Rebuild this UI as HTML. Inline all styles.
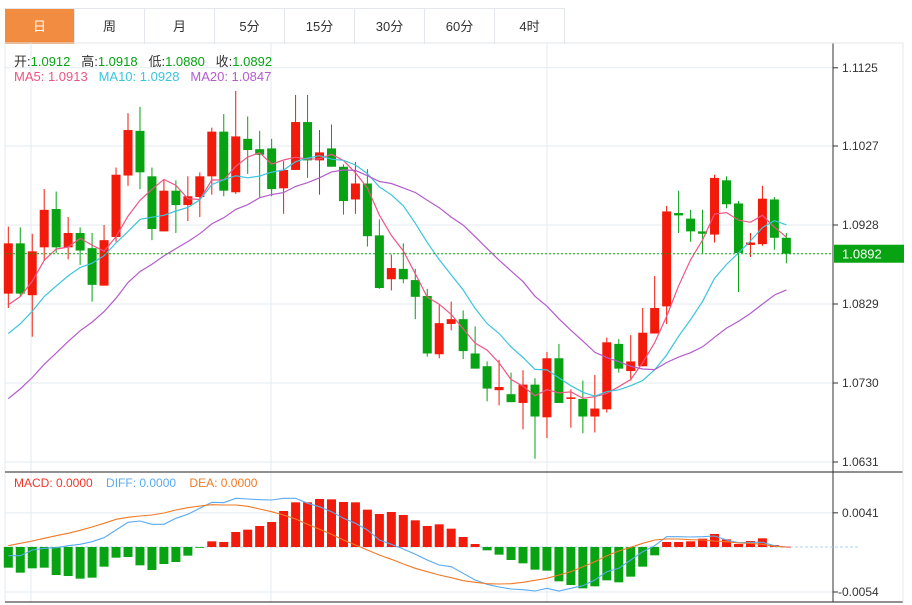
<!DOCTYPE html>
<html><head><meta charset="utf-8">
<style>
html,body{margin:0;padding:0;background:#fff;width:912px;height:605px;overflow:hidden;font-family:"Liberation Sans","Noto Sans CJK SC",sans-serif;}
#tabs{position:absolute;left:5px;top:8px;height:35px;display:flex;border-top:1px solid #e3e7eb;}
.tab{width:70px;height:35px;line-height:35px;text-align:center;font-size:13px;color:#333;border-right:1px solid #e3e7eb;box-sizing:border-box;}
.tab.on{background:#f28c40;color:#fff;}
.lg{position:absolute;left:14px;font-size:13px;white-space:nowrap;}
</style></head><body>
<div id="tabs">
<div class="tab on">日</div>
<div class="tab">周</div>
<div class="tab">月</div>
<div class="tab">5分</div>
<div class="tab">15分</div>
<div class="tab">30分</div>
<div class="tab">60分</div>
<div class="tab">4时</div>
</div>
<svg id="chart" width="912" height="605" style="position:absolute;left:0;top:0"></svg>
<div class="lg" style="top:51px;color:#333">开:<span style="color:#07a312">1.0912</span>&nbsp;&nbsp; 高:<span style="color:#07a312">1.0918</span>&nbsp;&nbsp; 低:<span style="color:#07a312">1.0880</span>&nbsp;&nbsp; 收:<span style="color:#07a312">1.0892</span></div>
<div class="lg" style="top:69px"><span style="color:#ee5584">MA5: 1.0913</span>&nbsp;&nbsp;&nbsp;<span style="color:#3cc4de">MA10: 1.0928</span>&nbsp;&nbsp;&nbsp;<span style="color:#b45ccc">MA20: 1.0847</span></div>
<div class="lg" style="top:476px;font-size:12px"><span style="color:#f2352a">MACD: 0.0000</span>&nbsp;&nbsp;&nbsp;&nbsp;<span style="color:#5aaaf0">DIFF: 0.0000</span>&nbsp;&nbsp;&nbsp;&nbsp;<span style="color:#f07a28">DEA: 0.0000</span></div>
<script>
const opens=[1.0842,1.0905,1.0840,1.0900,1.0948,1.0900,1.0918,1.0899,1.0852,1.0913,1.0990,1.1046,1.0989,1.0920,1.0971,1.0953,1.0963,1.0989,1.1045,1.0969,1.1036,1.1023,1.1024,1.0974,1.0997,1.1057,1.1009,1.1024,1.1001,1.0960,1.0980,1.0915,1.0860,1.0873,1.0859,1.0839,1.0766,1.0804,1.0810,1.0767,1.0751,1.0721,1.0716,1.0705,1.0728,1.0687,1.0761,1.0710,1.0710,1.0688,1.0697,1.0779,1.0745,1.0751,1.0792,1.0826,1.0943,1.0936,1.0920,1.0916,1.0984,1.0955,1.0903,1.0904,1.0960,1.0912];
const highs=[1.0926,1.0925,1.0917,1.0973,1.0970,1.0938,1.0925,1.0918,1.0928,1.1000,1.1068,1.1076,1.1000,1.0984,1.0984,1.0989,1.0994,1.1050,1.1067,1.1096,1.1064,1.1046,1.1036,1.1008,1.1091,1.1091,1.1047,1.1054,1.1004,1.1007,1.0998,1.0935,1.0891,1.0905,1.0873,1.0848,1.0828,1.0832,1.0821,1.0801,1.0757,1.0759,1.0743,1.0746,1.0736,1.0769,1.0779,1.0722,1.0733,1.0740,1.0787,1.0785,1.0790,1.0824,1.0864,1.0952,1.0971,1.0947,1.0947,1.0991,1.0989,1.0958,1.0918,1.0977,1.0963,1.0918];
const lows=[1.0824,1.0838,1.0788,1.0883,1.0893,1.0885,1.0878,1.0832,1.0852,1.0907,1.0977,1.0973,1.0909,1.0920,1.0918,1.0933,1.0938,1.0966,1.0964,1.0967,1.0992,1.0963,1.0964,1.0942,1.0997,1.0987,1.0966,1.1001,1.0941,1.0942,1.0901,1.0848,1.0846,1.0855,1.0810,1.0763,1.0761,1.0796,1.0760,1.0748,1.0707,1.0702,1.0706,1.0672,1.0635,1.0661,1.0705,1.0674,1.0667,1.0668,1.0693,1.0743,1.0733,1.0751,1.0792,1.0804,1.0918,1.0907,1.0893,1.0906,1.0949,1.0844,1.0888,1.0902,1.0897,1.0880];
const closes=[1.0905,1.0842,1.0895,1.0947,1.0900,1.0918,1.0896,1.0853,1.0909,1.0991,1.1047,1.0994,1.0923,1.0971,1.0953,1.0964,1.0989,1.1045,1.0971,1.1039,1.1022,1.1016,1.0973,1.0997,1.1057,1.1009,1.1019,1.1001,1.0958,1.0980,1.0914,1.0849,1.0874,1.0860,1.0838,1.0767,1.0805,1.0810,1.0770,1.0748,1.0723,1.0725,1.0706,1.0728,1.0688,1.0761,1.0705,1.0712,1.0688,1.0698,1.0781,1.0748,1.0757,1.0793,1.0824,1.0945,1.0940,1.0920,1.0917,1.0987,1.0954,1.0893,1.0906,1.0961,1.0912,1.0892];
const priorCloses=[1.0600,1.0610,1.0615,1.0620,1.0625,1.0630,1.0635,1.0645,1.0655,1.0655,1.0720,1.0740,1.0760,1.0770,1.0790,1.0790,1.0800,1.0815,1.0830];
const macdHist=[-24.8,-30.8,-25.6,-24.8,-33.6,-34.8,-38,-36.8,-23.6,-12.8,-12,-22,-27.6,-20.4,-18,-10.4,-0.8,6.8,6,18,20.8,25.2,30,43.2,53.6,53.6,57.6,57.2,54,53.6,44.8,39.6,42,38.4,32,25.2,27.2,22,12,3.6,-4,-9.2,-15.6,-19.6,-27.2,-28.4,-41.2,-45.6,-49.6,-47.2,-40,-42.4,-35.6,-23.6,-10,6,6,6.8,10,15.6,9.2,3.6,7.2,10.4,2.4,0.4];
const diffVals=[-10.4,-10.4,-3.6,-1.6,-0.8,1.6,3.2,6.4,11.2,20.4,29.6,31.2,27.2,27.2,34.4,39.2,46.4,53.6,53.2,58.4,57.6,56.8,56.4,58.4,58.4,52.4,48.4,42.4,34.4,28.4,20.4,8.4,3.2,-2.4,-8.8,-15.6,-21.6,-23.6,-31.6,-39.6,-44.8,-48,-50.4,-51.2,-52.8,-49.6,-52.8,-49.6,-46.4,-39.6,-29.6,-25.6,-15.6,-5.6,1.6,12.4,12.4,12,12.4,13.2,8.4,5.2,5.6,5.6,1.6,0];
const deaVals=[1.6,4.4,7.2,10.4,13.6,16.4,20,24,28.4,33.2,35.6,37.2,38.4,40.8,44.4,47.2,49.2,50.8,50.4,50.4,48.8,45.6,42.4,38.4,33.6,27.2,21.2,15.2,8.4,2.4,-3.6,-9.6,-14.8,-20.4,-25.6,-29.6,-33.6,-36.8,-40.4,-42.4,-44,-44.4,-44,-42.4,-40,-37.6,-33.6,-29.6,-23.6,-17.6,-10.4,-4.8,-0.4,4.4,8.4,9.6,9.6,8.8,8.4,7.2,6.4,4.8,4.4,3.2,0.8,0];
const priceTicks=["1.1125","1.1027","1.0928","1.0829","1.0730","1.0631"];
const macdTicks=["0.0041","-0.0054"];
const lastPrice=1.0892;

const svg=document.getElementById('chart');
const NS='http://www.w3.org/2000/svg';
function mk(t,a,parent){const e=document.createElementNS(NS,t);for(const k in a)e.setAttribute(k,a[k]);(parent||svg).appendChild(e);return e;}
const X0=8.3,DX=11.97,L=5,R=833;
const xAt=i=>X0+i*DX;
const yP=p=>225+(1.0928-p)/0.0099*79;
const yM=v=>547-v*0.8333;

let g=mk('g',{});
priceTicks.forEach(t=>{mk('line',{x1:L,x2:R,y1:yP(+t),y2:yP(+t),stroke:'#e3ebf1','stroke-width':1},g);});
[31,271,547].forEach(x=>{mk('line',{x1:x,x2:x,y1:43,y2:602,stroke:'#e3ebf1','stroke-width':1},g);});
mk('line',{x1:L,x2:R,y1:yM(41),y2:yM(41),stroke:'#e3ebf1'},g);
mk('line',{x1:L,x2:R,y1:yM(-54),y2:yM(-54),stroke:'#e3ebf1'},g);
mk('line',{x1:L,x2:L,y1:43,y2:602,stroke:'#e3ebf1'},g);
mk('line',{x1:L,x2:903,y1:472,y2:472,stroke:'#222','stroke-width':1},g);
mk('line',{x1:L,x2:903,y1:602,y2:602,stroke:'#222','stroke-width':1},g);
mk('line',{x1:R,x2:R,y1:43,y2:602,stroke:'#333','stroke-width':1},g);
mk('line',{x1:903,x2:903,y1:43,y2:602,stroke:'#e3e7eb','stroke-width':1},g);
mk('line',{x1:L,x2:903,y1:43,y2:43,stroke:'#e3e7eb','stroke-width':1},g);

priceTicks.forEach(t=>{
  const y=yP(+t);
  mk('line',{x1:R,x2:R+5,y1:y,y2:y,stroke:'#333'});
  const tx=mk('text',{x:R+9,y:y+4,'font-size':12,fill:'#333','font-family':'Liberation Sans, sans-serif'});
  tx.textContent=t;
  
  
});
macdTicks.forEach(t=>{
  const y=yM(+t*10000);
  mk('line',{x1:R,x2:R+5,y1:y,y2:y,stroke:'#333'});
  const tx=mk('text',{x:R+(t[0]=='-'?5:9),y:y+4,'font-size':12,fill:'#333','font-family':'Liberation Sans, sans-serif'});
  tx.textContent=t;
  
  
});

const RED='#f21a0a',GRN='#07a312';
closes.forEach((c,i)=>{
  const o=opens[i],up=c>=o,col=up?RED:GRN,x=xAt(i);
  const cg=mk('g',{});
  
  
  mk('line',{x1:x,x2:x,y1:yP(highs[i]),y2:yP(lows[i]),stroke:col,'stroke-width':1},cg);
  const top=yP(Math.max(o,c)),bot=yP(Math.min(o,c));
  mk('rect',{x:x-4.5,y:top,width:9,height:Math.max(1.5,bot-top),fill:col},cg);
});

const all=priorCloses.concat(closes),P=priorCloses.length;
function ma(n){return closes.map((c,i)=>{let s=0;for(let k=0;k<n;k++)s+=all[P+i-k];return s/n;});}
[[5,'#ee5584','ma5-line'],[10,'#3cc4de','ma10-line'],[20,'#b45ccc','ma20-line']].forEach(([n,col,name])=>{
  const v=ma(n);
  const p=mk('polyline',{points:v.map((m,i)=>xAt(i)+','+yP(m).toFixed(1)).join(' '),fill:'none',stroke:col,'stroke-width':1.2});
  
  
});

const ly=yP(lastPrice);
const pl=mk('line',{x1:L,x2:R,y1:ly,y2:ly,stroke:'#07a312','stroke-dasharray':'2,2','stroke-width':1});


const lb=mk('rect',{x:R+1,y:ly-9,width:70,height:18,fill:'#07a312'});


const lt=mk('text',{x:R+9,y:ly+5,'font-size':13,fill:'#fff','font-family':'Liberation Sans, sans-serif'});
lt.textContent=lastPrice.toFixed(4);



const zl=mk('line',{x1:L,x2:860,y1:547,y2:547,stroke:'#a8d4ec','stroke-dasharray':'3,2'});


macdHist.forEach((v,i)=>{
  const y0=547,y1=yM(v);
  const r=mk('rect',{x:xAt(i)-4.5,y:Math.min(y0,y1),width:9,height:Math.max(0.8,Math.abs(y1-y0)),fill:v>=0?RED:GRN});
  
  
});
const dl=mk('polyline',{points:diffVals.map((v,i)=>xAt(i)+','+yM(v).toFixed(1)).join(' '),fill:'none',stroke:'#5aaaf0','stroke-width':1.1});


const el=mk('polyline',{points:deaVals.map((v,i)=>xAt(i)+','+yM(v).toFixed(1)).join(' '),fill:'none',stroke:'#f07a28','stroke-width':1.1});


</script>
</body></html>
